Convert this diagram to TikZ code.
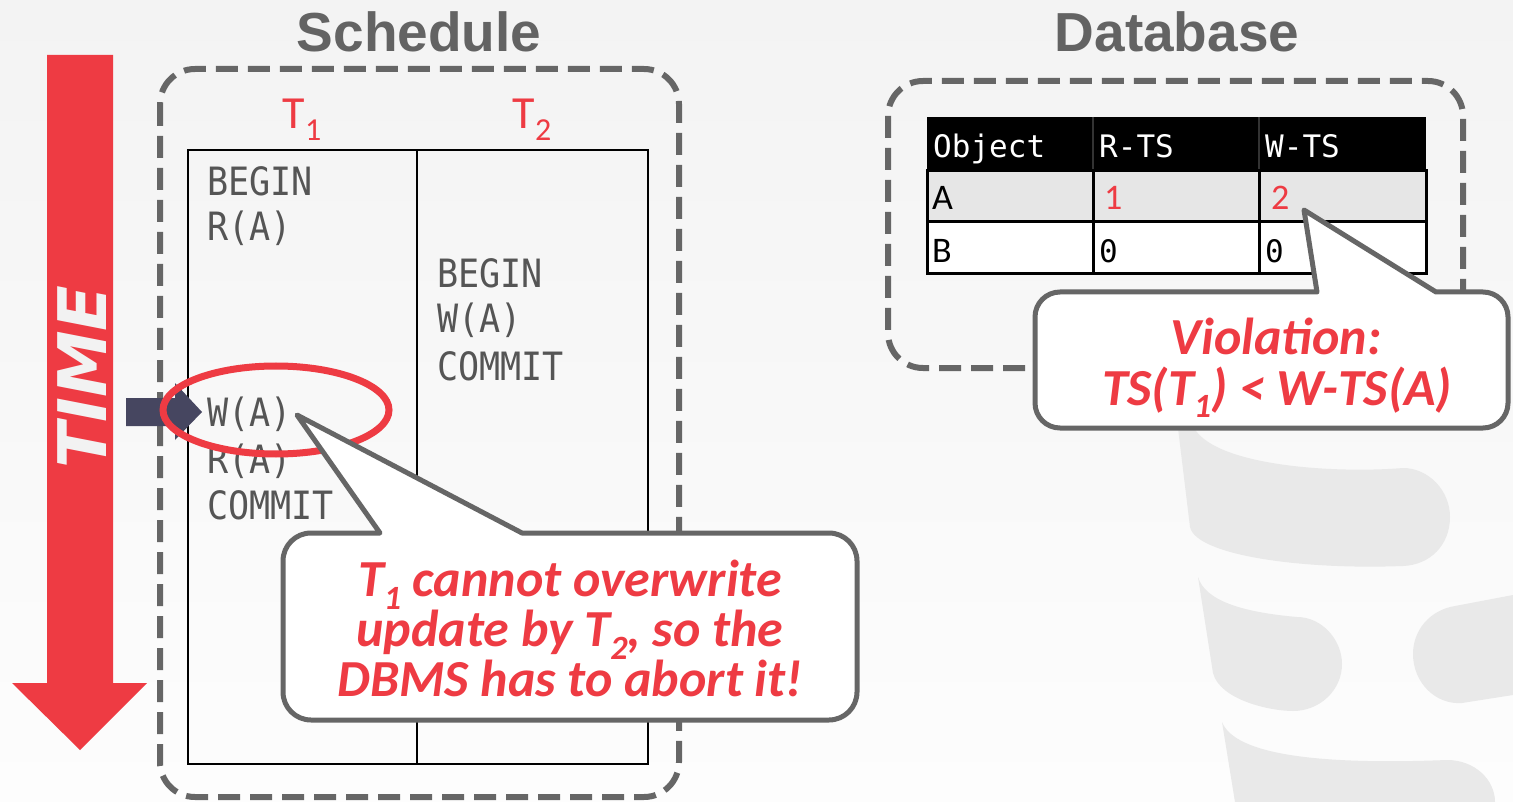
\documentclass[tikz,border=0pt]{standalone}
\usepackage{fontspec}
\setmainfont{Liberation Sans}
\newfontfamily\callfont{Carlito}
\newfontfamily\codefont[FakeStretch=0.9]{DejaVu Sans Mono}
\newfontfamily\tabfont{DejaVu Sans Mono}
\newfontfamily\timefont{DejaVu Sans}
\usetikzlibrary{shapes.geometric}

\definecolor{alert}{RGB}{238,59,67}
\definecolor{frame}{RGB}{102,102,102}
\definecolor{ink}{RGB}{85,85,85}
\definecolor{headcol}{RGB}{99,99,99}
\definecolor{marker}{RGB}{70,70,96}
\definecolor{logo}{RGB}{233,233,233}
\definecolor{rowA}{RGB}{230,230,230}
\definecolor{bgtop}{RGB}{243,243,243}
\definecolor{bgbot}{RGB}{253,253,253}
\definecolor{timeink}{RGB}{242,242,242}

% lowered subscript: #1 = drop, #2 = size, #3 = text
\newcommand{\lowsub}[3]{\smash{\raisebox{-#1}{\fontsize{#2}{#2}\selectfont #3}}}

\tikzset{
  dashframe/.style={draw=frame, line width=6pt, dash pattern=on 22pt off 10pt, rounded corners=35pt},
  balloon/.style={draw=frame, fill=white, line width=5pt, line join=round},
  code/.style={anchor=base west, inner sep=0pt, text=ink, font=\codefont\fontsize{39}{39}\selectfont},
  colhead/.style={anchor=base west, inner sep=0pt, text=white, font=\tabfont\fontsize{31}{31}\selectfont},
  cell/.style={anchor=base west, inner sep=0pt, font=\callfont\fontsize{36}{36}\selectfont},
  zero/.style={anchor=base west, inner sep=0pt, font=\tabfont\fontsize{31}{31}\selectfont},
  msg/.style={anchor=base, inner sep=0pt, text=alert, font=\callfont\bfseries\itshape\fontsize{52}{52}\selectfont},
  txn/.style={anchor=base, inner sep=0pt, text=alert, font=\callfont\fontsize{46}{46}\selectfont},
  heading/.style={anchor=base, inner sep=0pt, text=headcol, font=\bfseries\fontsize{55}{55}\selectfont},
}

\begin{document}
\begin{tikzpicture}[x=1pt, y=-1pt]
\useasboundingbox (0,0) rectangle (1513,802);
\shade[top color=bgtop, bottom color=bgbot] (0,0) rectangle (1513,802);

% faint database logo in the background
\begin{scope}[fill=logo]
  \fill (1177,420) -- (1190,527) .. controls (1196,555) and (1300,570) .. (1403,566)
        .. controls (1430,565) and (1450,545) .. (1450,517)
        .. controls (1450,490) and (1428,468) .. (1403,468)
        .. controls (1330,474) and (1200,465) .. (1191,420) -- cycle;
  \fill (1198,577) -- (1213,673) .. controls (1220,700) and (1270,711) .. (1293,711)
        .. controls (1320,711) and (1342,690) .. (1342,664)
        .. controls (1342,640) and (1322,617) .. (1297,617)
        .. controls (1240,612) and (1205,600) .. (1198,577) -- cycle;
  \fill (1513,595) -- (1455,606) .. controls (1430,610) and (1413,630) .. (1413,654)
        .. controls (1413,682) and (1435,705) .. (1462,703) -- (1513,695) -- cycle;
  \fill (1222,722) .. controls (1235,755) and (1320,765) .. (1447,760)
        .. controls (1475,760) and (1495,780) .. (1495,802) -- (1235,802) -- cycle;
\end{scope}

% headings
\node[heading] (schedTitle) at (419,52) {Schedule};
\node[heading] (dbTitle) at (1177,52) {Database};

% time arrow
\fill[alert] (47,55) -- (113,55) -- (113,683) -- (147,683) -- (80,750) -- (12,683) -- (47,683) -- cycle;
\node[rotate=90, inner sep=0pt, text=timeink, font=\timefont\bfseries\itshape\fontsize{67}{67}\selectfont] (time) at (82,377) {TIME};

% schedule
\draw[dashframe] (160,69) rectangle (679,797);
\draw[line width=1.8pt] (188,150) rectangle (648,764);
\draw[line width=1.8pt] (417,150) -- (417,764);

\node[txn] (t1) at (302,129) {T\lowsub{12pt}{32}{1}};
\node[txn] (t2) at (532,129) {T\lowsub{12pt}{32}{2}};

\node[code] (a1) at (207,196) {BEGIN};
\node[code] (a2) at (207,241) {R(A)};
\node[code] (a3) at (207,426) {W(A)};
\node[code] (a4) at (207,473) {R(A)};
\node[code] (a5) at (207,519) {COMMIT};

\node[code] (b1) at (437,288) {BEGIN};
\node[code] (b2) at (437,333) {W(A)};
\node[code] (b3) at (437,381) {COMMIT};

% current-step marker
\fill[marker] (126,398) -- (175,398) -- (175,383) -- (202,412) -- (175,440) -- (175,426) -- (126,426) -- cycle;

% highlight
\node[ellipse, draw=alert, line width=7pt, minimum width=226pt, minimum height=88pt, inner sep=0pt] (hl) at (276,410) {};

% callout on the schedule
\coordinate (tip1) at (297,415);
\draw[balloon] (tip1) -- (522,533) [rounded corners=28pt] -- (857,533) -- (857,720) -- (283,720) -- (283,533) [sharp corners] -- (380,533) -- cycle;
\node[msg] (m1) at (570,596) {T\lowsub{13pt}{34}{1} cannot overwrite};
\node[msg] (m2) at (570,646) {update by T\lowsub{13pt}{34}{2}, so the};
\node[msg] (m3) at (570,696) {DBMS has to abort it!};

% database
\draw[dashframe] (888,81) rectangle (1463,368);
\fill[black] (927,117) rectangle (1426,171);
\fill[rowA] (927,171) rectangle (1426,222);
\fill[white] (927,222) rectangle (1426,274);
\draw[line width=1.5pt, draw=black!80] (1093,117) -- (1093,171) (1259,117) -- (1259,171);
\draw[line width=3pt] (927,171) rectangle (1426,274);
\draw[line width=3pt] (927,222) -- (1426,222);
\draw[line width=3pt] (1093,171) -- (1093,274) (1259,171) -- (1259,274);

\node[colhead] (hObj) at (933,158) {Object};
\node[colhead] (hR) at (1099,158) {R-TS};
\node[colhead] (hW) at (1265,158) {W-TS};

\node[cell] (cA) at (932,210) {A};
\node[cell, text=alert] (cAr) at (1104,210) {1};
\node[cell, text=alert] (cAw) at (1271,210) {2};
\node[cell] (cB) at (932,263) {B};
\node[zero] (cBr) at (1099,263) {0};
\node[zero] (cBw) at (1265,263) {0};

% callout on the table
\coordinate (tip2) at (1304,210);
\draw[balloon] (tip2) -- (1436,292) [rounded corners=25pt] -- (1508,292) -- (1508,428) -- (1035,428) -- (1035,292) [sharp corners] -- (1317,292) -- cycle;
\node[msg] (v1) at (1276,355) {Violation:};
\node[msg] (v2) at (1277,405) {TS(T\lowsub{13pt}{34}{1}) < W-TS(A)};
\end{tikzpicture}
\end{document}
